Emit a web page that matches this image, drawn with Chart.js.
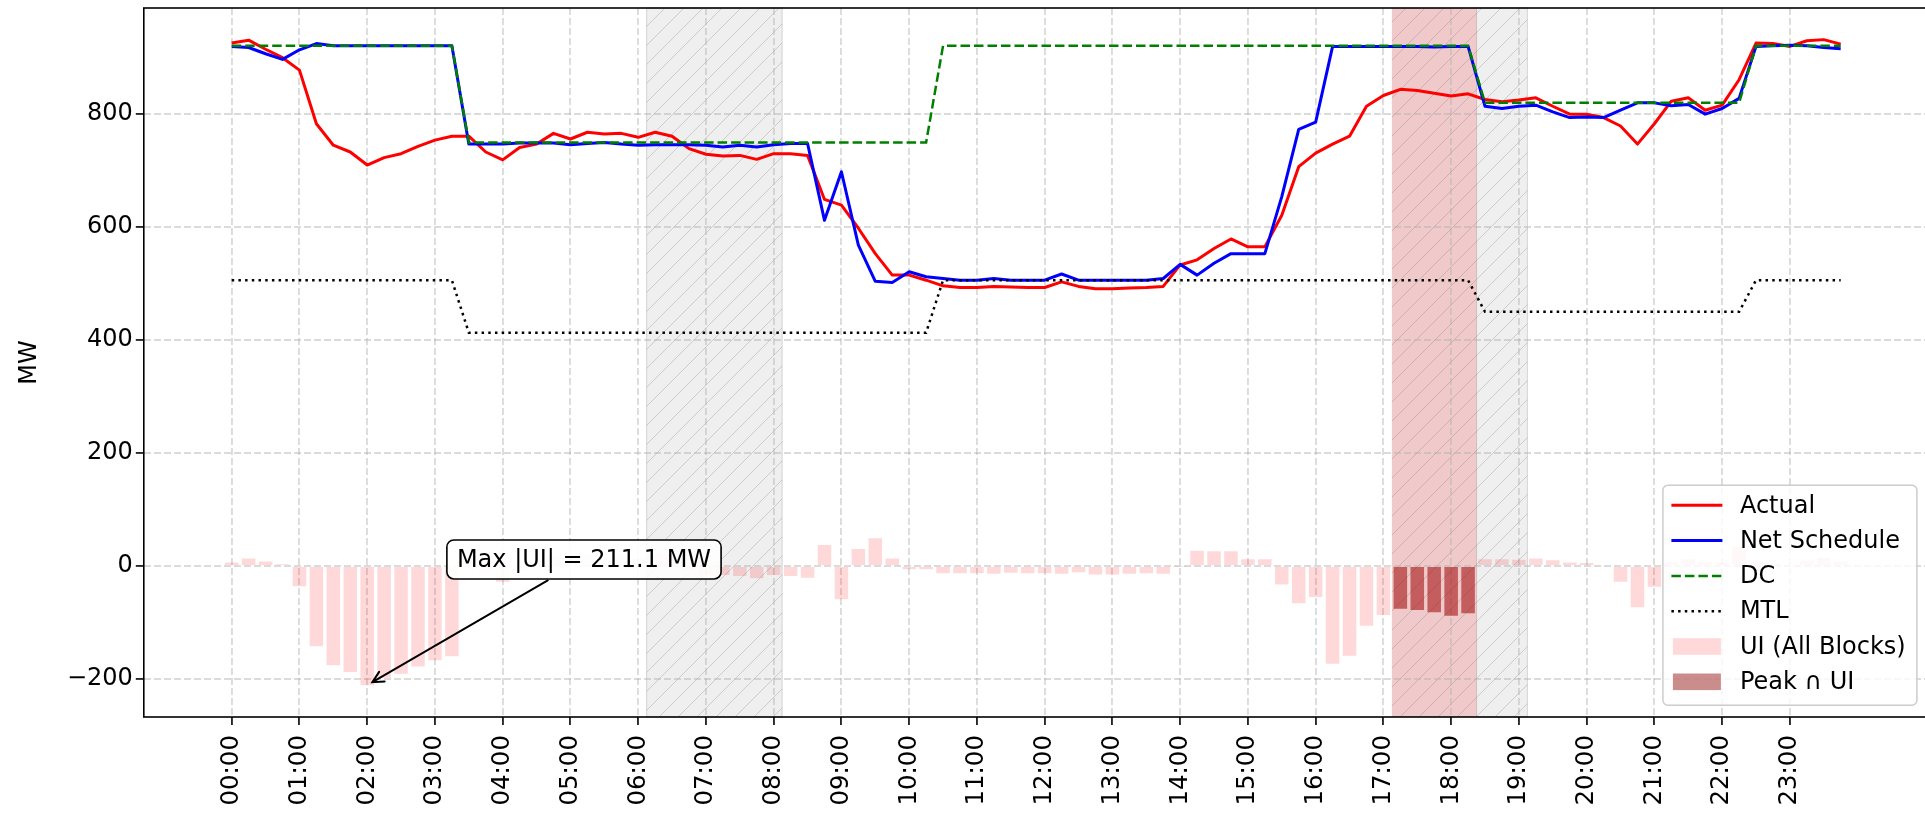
<!DOCTYPE html>
<html>
<head>
<meta charset="utf-8">
<title>Actual vs Schedule - UI</title>
<script src="https://cdn.jsdelivr.net/npm/chart.js@4.4.1/dist/chart.umd.min.js"></script>
<style>
  html, body { margin: 0; padding: 0; background: #fff; overflow: hidden; }
  canvas { display: block; }
</style>
</head>
<body>
<canvas id="ui_chart" width="1932" height="820"></canvas>
<script>
// One value per 15-minute block, 96 blocks in the day (block 0 = 00:00)
let hourLabels = ['00:00', '01:00', '02:00', '03:00', '04:00', '05:00',
                  '06:00', '07:00', '08:00', '09:00', '10:00', '11:00',
                  '12:00', '13:00', '14:00', '15:00', '16:00', '17:00',
                  '18:00', '19:00', '20:00', '21:00', '22:00', '23:00']

let actual = [
    926, 931, 915, 900, 878, 783, 745, 733,
    709.9, 723, 730, 743, 754, 761, 761, 733,
    719, 741, 747, 766, 756, 768, 765, 766,
    759, 768, 761, 739, 729, 726, 727, 720,
    730, 730, 727, 649, 639, 598, 553, 515,
    515, 506, 496, 493, 493, 495, 494, 493,
    493, 503, 495, 491, 491, 492, 493, 495,
    533, 542, 562, 579, 565, 565, 621, 707,
    731, 747, 761, 814, 833, 844, 842, 837,
    832, 836, 826, 822, 825, 829, 814, 800,
    800, 794, 779, 747, 783, 823, 829, 807,
    816, 861, 926, 925, 920, 930, 932, 924
]

let netSchedule = [
    920, 918, 907, 897, 914, 925, 921, 921,
    921, 921, 921, 921, 921, 921, 747, 747,
    747, 749, 749, 749, 746, 748, 750, 747,
    745, 746, 746, 746, 745, 742, 745, 742,
    746, 748, 748, 612, 698, 568, 504, 502,
    521, 512, 509, 506, 506, 509, 506, 506,
    506, 517, 506, 506, 506, 506, 506, 509,
    534, 515, 536, 553, 553, 553, 654, 773,
    786, 920, 920, 920, 920, 920, 920, 919,
    920, 920, 814, 810, 814, 816, 804, 794,
    795, 794, 807, 820, 820, 815, 817, 800,
    810, 828, 920, 921, 922, 921, 918, 916
]

let dc = [
    921, 921, 921, 921, 921, 921, 921, 921,
    921, 921, 921, 921, 921, 921, 750, 750,
    750, 750, 750, 750, 750, 750, 750, 750,
    750, 750, 750, 750, 750, 750, 750, 750,
    750, 750, 750, 750, 750, 750, 750, 750,
    750, 750, 921, 921, 921, 921, 921, 921,
    921, 921, 921, 921, 921, 921, 921, 921,
    921, 921, 921, 921, 921, 921, 921, 921,
    921, 921, 921, 921, 921, 921, 921, 921,
    921, 921, 820, 820, 820, 820, 820, 820,
    820, 820, 820, 820, 820, 820, 820, 820,
    820, 820, 921, 921, 921, 921, 921, 921
]

let mtl = [
    506, 506, 506, 506, 506, 506, 506, 506,
    506, 506, 506, 506, 506, 506, 413, 413,
    413, 413, 413, 413, 413, 413, 413, 413,
    413, 413, 413, 413, 413, 413, 413, 413,
    413, 413, 413, 413, 413, 413, 413, 413,
    413, 413, 506, 506, 506, 506, 506, 506,
    506, 506, 506, 506, 506, 506, 506, 506,
    506, 506, 506, 506, 506, 506, 506, 506,
    506, 506, 506, 506, 506, 506, 506, 506,
    506, 506, 450, 450, 450, 450, 450, 450,
    450, 450, 450, 450, 450, 450, 450, 450,
    450, 450, 506, 506, 506, 506, 506, 506
]

// unscheduled interchange per block (MW)
let ui = [
    6, 13, 8, 3, -36, -142, -176, -188,
    -211.1, -198, -191, -178, -167, -160, 14, -14,
    -28, -8, -2, 17, 10, 20, 15, 19,
    14, 22, 15, -7, -16, -16, -18, -22,
    -16, -18, -21, 37, -59, 30, 49, 13,
    -6, -6, -13, -13, -13, -14, -12, -13,
    -13, -14, -11, -15, -15, -14, -13, -14,
    -1, 27, 26, 26, 12, 12, -33, -66,
    -55, -173, -159, -106, -87, -76, -78, -82,
    -88, -84, 12, 12, 11, 13, 10, 6,
    5, 0, -28, -73, -37, 8, 12, 7,
    6, 33, 6, 4, -2, 9, 14, 8
]

// blocks falling in the evening peak window
let peakBlocks = [69, 70, 71, 72, 73]

// shaded windows in block units
let greySpans = [[24.5, 32.5], [73.5, 76.5]]
let peakSpans = [[68.5, 73.5]]

const FONT = '"DejaVu Sans", "Liberation Sans", sans-serif'
const FS = 24

Chart.defaults.font.family = FONT
Chart.defaults.font.size = FS
Chart.defaults.color = '#000'

// biggest |UI| block, used for the call-out
let maxIdx = 0
ui.forEach((v, i) => { if (Math.abs(v) > Math.abs(ui[maxIdx])) maxIdx = i })
let noteText = 'Max |UI| = ' + Math.abs(ui[maxIdx]).toFixed(1) + ' MW'
let noteAt = [20.8, 11.5]

function points(arr) {
    return arr.map((v, i) => ({x: i, y: v}))
}

function hatch(ctx, x0, x1, top, bottom) {
    let step = 19
    ctx.save()
    ctx.beginPath()
    ctx.rect(x0, top, x1 - x0, bottom - top)
    ctx.clip()
    ctx.strokeStyle = 'rgba(100,100,100,0.25)'
    ctx.lineWidth = 1
    ctx.beginPath()
    let h = bottom - top
    for (let x = x0 - h - (x0 % step); x < x1 + step; x += step) {
        ctx.moveTo(x, bottom)
        ctx.lineTo(x + h, top)
    }
    ctx.stroke()
    ctx.restore()
}

let spansPlugin = {
    id: 'spans',
    beforeDraw(chart) {
        let {ctx, chartArea: a, scales: {x}} = chart
        ctx.save()
        greySpans.forEach(s => {
            let x0 = x.getPixelForValue(s[0]), x1 = x.getPixelForValue(s[1])
            ctx.fillStyle = 'rgba(128,128,128,0.13)'
            ctx.fillRect(x0, a.top, x1 - x0, a.bottom - a.top)
            ctx.strokeStyle = 'rgba(128,128,128,0.3)'
            ctx.lineWidth = 1
            ctx.strokeRect(x0, a.top, x1 - x0, a.bottom - a.top)
            hatch(ctx, x0, x1, a.top, a.bottom)
        })
        peakSpans.forEach(s => {
            let x0 = x.getPixelForValue(s[0]), x1 = x.getPixelForValue(s[1])
            ctx.fillStyle = 'rgba(195,45,45,0.25)'
            ctx.fillRect(x0, a.top, x1 - x0, a.bottom - a.top)
            hatch(ctx, x0, x1, a.top, a.bottom)
        })
        ctx.restore()
    }
}

let framePlugin = {
    id: 'frame',
    afterDatasetsDraw(chart) {
        let {ctx, chartArea: a} = chart
        ctx.save()
        ctx.strokeStyle = '#000'
        ctx.lineWidth = 1.6
        ctx.strokeRect(a.left, a.top, a.right - a.left, a.bottom - a.top)
        ctx.restore()
    },
    afterDraw(chart) {
        drawNote(chart)
        drawLegend(chart)
    }
}

function drawNote(chart) {
    let {ctx, scales: {x, y}} = chart
    let px = x.getPixelForValue(maxIdx), py = y.getPixelForValue(ui[maxIdx])
    let cx = x.getPixelForValue(noteAt[0]), cy = y.getPixelForValue(noteAt[1])
    ctx.save()
    ctx.font = FS + 'px ' + FONT
    let bw = ctx.measureText(noteText).width + 20, bh = 39

    // arrow leaves the box edge and stops just short of the bar end
    let dx = px - cx, dy = py - cy
    let t = Math.min(Math.abs(bw / 2 / dx), Math.abs(bh / 2 / dy))
    let sx = cx + dx * t, sy = cy + dy * t
    let len = Math.hypot(px - sx, py - sy)
    let ux = (px - sx) / len, uy = (py - sy) / len
    let ex = px - ux * 6, ey = py - uy * 6
    ctx.strokeStyle = '#000'
    ctx.lineWidth = 2
    ctx.lineCap = 'round'
    ctx.beginPath()
    ctx.moveTo(sx + ux * 3, sy + uy * 3)
    ctx.lineTo(ex, ey)
    let hl = 11, hw = 5.5
    ctx.moveTo(ex - ux * hl - uy * hw, ey - uy * hl + ux * hw)
    ctx.lineTo(ex, ey)
    ctx.lineTo(ex - ux * hl + uy * hw, ey - uy * hl - ux * hw)
    ctx.stroke()

    ctx.beginPath()
    ctx.roundRect(cx - bw / 2, cy - bh / 2, bw, bh, 7)
    ctx.fillStyle = 'rgba(255,255,255,0.9)'
    ctx.fill()
    ctx.lineWidth = 1.6
    ctx.stroke()
    ctx.fillStyle = '#000'
    ctx.textAlign = 'center'
    ctx.textBaseline = 'middle'
    ctx.fillText(noteText, cx, cy + 1)
    ctx.restore()
}

function drawLegend(chart) {
    let {ctx, chartArea: a} = chart
    let w = 254, h = 220
    let lx = a.right - 11.7 - w, ly = a.bottom - 11.7 - h
    ctx.save()
    ctx.beginPath()
    ctx.roundRect(lx, ly, w, h, 5)
    ctx.fillStyle = 'rgba(255,255,255,0.8)'
    ctx.fill()
    ctx.strokeStyle = '#cccccc'
    ctx.lineWidth = 1.5
    ctx.stroke()
    ctx.font = FS + 'px ' + FONT
    ctx.textBaseline = 'middle'
    chart.data.datasets.forEach((ds, i) => {
        let cy = ly + 20 + i * 35.3
        if (ds.type === 'line') {
            ctx.strokeStyle = ds.borderColor
            ctx.lineWidth = ds.borderWidth
            ctx.setLineDash(ds.borderDash || [])
            ctx.beginPath()
            ctx.moveTo(lx + 8.5, cy)
            ctx.lineTo(lx + 59.5, cy)
            ctx.stroke()
            ctx.setLineDash([])
        } else {
            ctx.fillStyle = ds.backgroundColor
            ctx.fillRect(lx + 10, cy - 8.3, 48, 16.6)
        }
        ctx.fillStyle = '#000'
        ctx.fillText(ds.label, lx + 77, cy + 1)
    })
    ctx.restore()
}

let gridColor = 'rgba(176,176,176,0.45)'

let ctx = document.getElementById('ui_chart').getContext('2d')

let ui_chart = new Chart(ctx, {
    type: 'bar',
    data: {
        datasets: [
            {type: 'line', label: 'Actual', data: points(actual), borderColor: 'red',
             borderWidth: 3, pointRadius: 0, tension: 0, borderJoinStyle: 'round', order: 4},
            {type: 'line', label: 'Net Schedule', data: points(netSchedule), borderColor: 'blue',
             borderWidth: 3, pointRadius: 0, tension: 0, borderJoinStyle: 'round', order: 3},
            {type: 'line', label: 'DC', data: points(dc), borderColor: 'green',
             borderWidth: 2.5, borderDash: [9.5, 4], pointRadius: 0, tension: 0, order: 2},
            {type: 'line', label: 'MTL', data: points(mtl), borderColor: 'black',
             borderWidth: 2.5, borderDash: [2.5, 4.2], pointRadius: 0, tension: 0, order: 1},
            {type: 'bar', label: 'UI (All Blocks)', data: points(ui),
             backgroundColor: 'rgba(255,0,0,0.15)', grouped: false,
             barPercentage: 0.8, categoryPercentage: 1, order: 6},
            {type: 'bar', label: 'Peak \u2229 UI', data: peakBlocks.map(b => ({x: b, y: ui[b]})),
             backgroundColor: 'rgba(139,0,0,0.45)', grouped: false,
             barPercentage: 0.8, categoryPercentage: 1, order: 5}
        ]
    },
    options: {
        responsive: false,
        devicePixelRatio: 1,
        animation: false,
        events: [],
        layout: {padding: {top: 8, right: 3.4, left: 0, bottom: 0}},
        plugins: {legend: {display: false}, tooltip: {enabled: false}},
        scales: {
            x: {
                type: 'linear', min: -5.19, max: 100.19, offset: false,
                afterBuildTicks: (axis) => { axis.ticks = hourLabels.map((_, h) => ({value: h * 4})) },
                afterFit: (axis) => { axis.height = 103; axis.paddingLeft = 0; axis.paddingRight = 0 },
                ticks: {autoSkip: false, minRotation: 90, maxRotation: 90, padding: 10,
                        font: {size: 24.5},
                        callback: (value) => hourLabels[value / 4]},
                grid: {offset: false, color: gridColor, lineWidth: 1.9, tickLength: 8,
                       tickColor: '#000', tickWidth: 1.6},
                border: {display: false, dash: [7, 3]}
            },
            y: {
                type: 'linear', min: -267.5, max: 988,
                afterBuildTicks: (axis) => {
                    axis.ticks = [-200, 0, 200, 400, 600, 800].map(v => ({value: v}))
                },
                afterFit: (axis) => { axis.width = 143.8; axis.paddingTop = 0; axis.paddingBottom = 0 },
                ticks: {padding: 3, callback: (v) => v < 0 ? '\u2212' + Math.abs(v) : String(v)},
                title: {display: true, text: 'MW', padding: {top: 15, bottom: 0}},
                grid: {color: gridColor, lineWidth: 1.9, tickLength: 8,
                       tickColor: '#000', tickWidth: 1.6},
                border: {display: false, dash: [7, 3]}
            }
        }
    },
    plugins: [spansPlugin, framePlugin]
})
</script>
</body>
</html>
